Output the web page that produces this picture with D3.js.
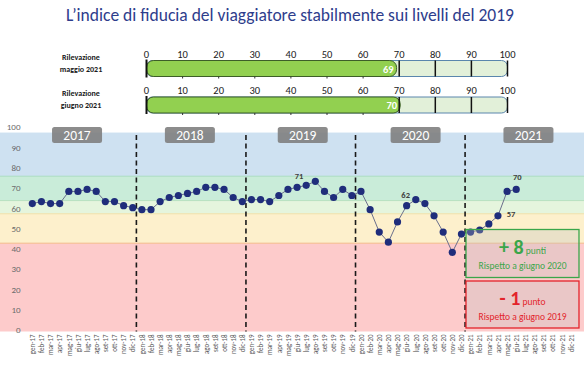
<!DOCTYPE html>
<html>
<head>
<meta charset="utf-8">
<script src="https://cdn.jsdelivr.net/npm/d3@7"></script>
<style>
  body { margin: 0; background: #fff; }
  svg { display: block; font-family: Carlito, Calibri, "Noto Sans", sans-serif; }
</style>
</head>
<body>
<div class="chart"></div>
<script>
// Month labels
var monthNames = ["gen", "feb", "mar", "apr", "mag", "giu", "lug", "ago", "set", "ott", "nov", "dic"];
var yearSuffix = ["17", "18", "19", "20", "21"];
var yearLabels = ["2017", "2018", "2019", "2020", "2021"];

// Monthly index values (gen-17 .. giu-21)
var values = [
  63, 64, 63, 63, 69, 69, 70, 69, 64, 64, 62, 61,
  60, 60, 64, 66, 67, 68, 69, 71, 71, 70, 66, 64,
  65, 65, 64, 67, 70, 71, 72, 74, 69, 66, 70, 67,
  69, 60, 49, 44, 54, 62, 65, 63, 57, 49, 39, 48,
  49, 50, 53, 57, 69, 70
];

// Points with a value label
var labelled = ["giu-19", "giu-20", "apr-21", "giu-21"];

// Background bands (value ranges)
var bandFrom = [0, 43.5, 58, 64.5, 76.5];
var bandTo = [43.5, 58, 64.5, 76.5, 98];
var bandColors = ["#fdcbcb", "#fdf0cc", "#e5f5dd", "#c9ecd9", "#cee1f1"];

// Survey bars at the top
var surveyNames = [["Rilevazione", "maggio  2021"], ["Rilevazione", "giugno 2021"]];
var surveyValues = [69, 70];
var barTicks = [0, 10, 20, 30, 40, 50, 60, 70, 80, 90, 100];

var yTicks = [0, 10, 20, 30, 40, 50, 60, 70, 80, 90, 100];

var categories = [];
yearSuffix.forEach(function (y) {
  monthNames.forEach(function (m) { categories.push(m + "-" + y); });
});
var data = values.map(function (v, i) { return { cat: categories[i], value: v }; });

var svgWidth = 584;
var svgHeight = 366;

var svg = d3.select(".chart")
  .append("svg")
  .attr("width", svgWidth)
  .attr("height", svgHeight);

// Title
svg.append("text")
  .attr("x", 290)
  .attr("y", 21)
  .attr("text-anchor", "middle")
  .attr("fill", "#2e3d8c")
  .style("font-size", "17.5px")
  .text("L\u2019indice di fiducia del viaggiatore stabilmente sui livelli del 2019");

// ---- Top survey bars ----
var barScale = d3.scaleLinear().domain([0, 100]).range([146.5, 507.5]);
var barTop = [60.5, 97];
var barH = 16;

surveyValues.forEach(function (v, i) {
  var g = svg.append("g").attr("transform", "translate(0," + barTop[i] + ")");

  g.append("text")
    .attr("x", 81).attr("y", -1)
    .attr("text-anchor", "middle")
    .style("font-size", "8px").style("font-weight", "bold").attr("fill", "#1a1a1a")
    .text(surveyNames[i][0]);
  g.append("text")
    .attr("x", 81).attr("y", 11)
    .attr("text-anchor", "middle")
    .style("font-size", "8px").style("font-weight", "bold").attr("fill", "#1a1a1a")
    .text(surveyNames[i][1]);

  // light remainder
  g.append("rect")
    .attr("x", barScale(0)).attr("y", 0)
    .attr("width", barScale(100) - barScale(0)).attr("height", barH)
    .attr("rx", 6)
    .attr("fill", "#e2f0d9").attr("stroke", "#5a86ad").attr("stroke-width", 1);

  // green value
  g.append("rect")
    .attr("x", barScale(0)).attr("y", 0)
    .attr("width", barScale(v) - barScale(0) + 1).attr("height", barH)
    .attr("rx", 7)
    .attr("fill", "#92d050").attr("stroke", "#3d5e28").attr("stroke-width", 1);

  // tick lines inside remainder
  [70, 80, 90, 100].forEach(function (t) {
    g.append("line")
      .attr("x1", barScale(t)).attr("x2", barScale(t))
      .attr("y1", 0).attr("y2", barH)
      .attr("stroke", "#111").attr("stroke-width", 1.5);
  });
  g.append("line")
    .attr("x1", barScale(0)).attr("x2", barScale(0))
    .attr("y1", -1).attr("y2", barH + 1)
    .attr("stroke", "#111").attr("stroke-width", 2);

  g.selectAll(".btick")
    .data(barTicks.slice(1, 7))
    .enter().append("line")
    .attr("x1", function (t) { return barScale(t); })
    .attr("x2", function (t) { return barScale(t); })
    .attr("y1", barH).attr("y2", barH + 2)
    .attr("stroke", "#333").attr("stroke-width", 1);

  g.selectAll(".blabel")
    .data(barTicks)
    .enter().append("text")
    .attr("x", function (t) { return barScale(t); })
    .attr("y", -3)
    .attr("text-anchor", "middle")
    .style("font-size", "10.5px").attr("fill", "#1a1a1a")
    .text(function (t) { return t; });

  g.append("text")
    .attr("x", barScale(v) - 2).attr("y", 12)
    .attr("text-anchor", "end")
    .style("font-size", "10.5px").style("font-weight", "bold").attr("fill", "#fff")
    .text(v);
});

// ---- Main chart ----
var xScale = d3.scalePoint().domain(categories).range([32.3, 571]);
var step = xScale.step();
var yScale = d3.scaleLinear().domain([0, 100]).range([331.5, 128.5]);

var chart = svg.append("g");

chart.selectAll(".band")
  .data(bandFrom)
  .enter().append("rect")
  .attr("x", 0)
  .attr("width", svgWidth)
  .attr("y", function (d, i) { return yScale(bandTo[i]); })
  .attr("height", function (d, i) { return yScale(bandFrom[i]) - yScale(bandTo[i]); })
  .attr("fill", function (d, i) { return bandColors[i]; });

// band edges
var edgeColors = ["#f3b98a", "#f0e0a8", "#b8e0bf", "#a9dcc0"];
bandTo.slice(0, 4).forEach(function (v, i) {
  chart.append("line")
    .attr("x1", 0).attr("x2", svgWidth)
    .attr("y1", yScale(v)).attr("y2", yScale(v))
    .attr("stroke", edgeColors[i]).attr("stroke-width", 1);
});

// y axis labels
var leftAxis = d3.axisLeft(yScale).tickValues(yTicks).tickSize(0).tickPadding(0);
var yAxisG = chart.append("g")
  .attr("transform", "translate(20.5,-1.5)")
  .call(leftAxis);
yAxisG.select(".domain").remove();
yAxisG.selectAll("text")
  .style("font-size", "9px")
  .style("font-family", "Carlito, Calibri, 'Noto Sans', sans-serif")
  .attr("fill", "#6b6b6b");

// x axis labels
var bottomAxis = d3.axisBottom(xScale).tickSize(0);
var xAxisG = chart.append("g")
  .attr("transform", "translate(0," + yScale(0) + ")")
  .call(bottomAxis);
xAxisG.select(".domain").remove();
xAxisG.selectAll("text")
  .attr("transform", "rotate(-90)")
  .attr("text-anchor", "end")
  .attr("x", -3)
  .attr("y", 0)
  .attr("dy", "0.32em")
  .style("font-size", "7px")
  .style("font-family", "Carlito, Calibri, 'Noto Sans', sans-serif")
  .attr("fill", "#5a5a5a");

// year separators (after each dicembre)
["dic-17", "dic-18", "dic-19", "dic-20"].forEach(function (c) {
  var xx = xScale(c) + step * 0.4;
  chart.append("line")
    .attr("x1", xx).attr("x2", xx)
    .attr("y1", 135).attr("y2", yScale(0))
    .attr("stroke", "#1a1a1a")
    .attr("stroke-width", 1.6)
    .attr("stroke-dasharray", "5,3.5");
});

// year boxes
yearLabels.forEach(function (yl, k) {
  var cx = xScale(categories[k * 12]) + step * (4.9 + 0.36 * k);
  chart.append("rect")
    .attr("x", cx - 25).attr("y", 127)
    .attr("width", 50).attr("height", 16)
    .attr("rx", 2.5)
    .attr("fill", "#7f7f7f").attr("opacity", 0.9);
  chart.append("text")
    .attr("x", cx).attr("y", 140)
    .attr("text-anchor", "middle")
    .style("font-size", "13.5px").attr("fill", "#fff")
    .text(yl);
});

// line
var line = d3.line()
  .x(function (d) { return xScale(d.cat); })
  .y(function (d) { return yScale(d.value); });

chart.append("path")
  .datum(data)
  .attr("d", line)
  .attr("fill", "none")
  .attr("stroke", "#6a6f8c")
  .attr("stroke-width", 1);

chart.selectAll("circle")
  .data(data)
  .enter()
  .append("circle")
  .attr("cx", function (d) { return xScale(d.cat); })
  .attr("cy", function (d) { return yScale(d.value); })
  .attr("r", 3.6)
  .attr("fill", "#1f2d7b");

// value labels
var labelOffset = { "giu-19": [2, -8], "giu-20": [-1, -8], "apr-21": [13, 1], "giu-21": [1, -9] };
chart.selectAll(".vlabel")
  .data(data.filter(function (d) { return labelled.indexOf(d.cat) >= 0; }))
  .enter().append("text")
  .attr("x", function (d) { return xScale(d.cat) + labelOffset[d.cat][0]; })
  .attr("y", function (d) { return yScale(d.value) + labelOffset[d.cat][1]; })
  .attr("text-anchor", "middle")
  .style("font-size", "8.5px").style("font-weight", "bold").attr("fill", "#404040")
  .text(function (d) { return d.value; });

// comparison boxes
function compareBox(y, h, color, big, small, note) {
  chart.append("rect")
    .attr("x", 466).attr("y", y)
    .attr("width", 113).attr("height", h)
    .attr("fill", "#bfbfbf").attr("fill-opacity", 0.3)
    .attr("stroke", color).attr("stroke-width", 1.3);
  var t = chart.append("text")
    .attr("x", 522.5).attr("y", y + 24)
    .attr("text-anchor", "middle")
    .attr("fill", color);
  t.append("tspan").style("font-size", "20px").style("font-weight", "bold").text(big);
  t.append("tspan").style("font-size", "9.5px").text(" " + small);
  chart.append("text")
    .attr("x", 522.5).attr("y", y + 39)
    .attr("text-anchor", "middle")
    .style("font-size", "9.5px")
    .attr("fill", color)
    .text(note);
}
compareBox(229.5, 48, "#3aa64a", "+ 8", "punti", "Rispetto a giugno 2020");
compareBox(281, 47, "#e3242b", "- 1", "punto", "Rispetto a giugno  2019");
</script>
</body>
</html>
